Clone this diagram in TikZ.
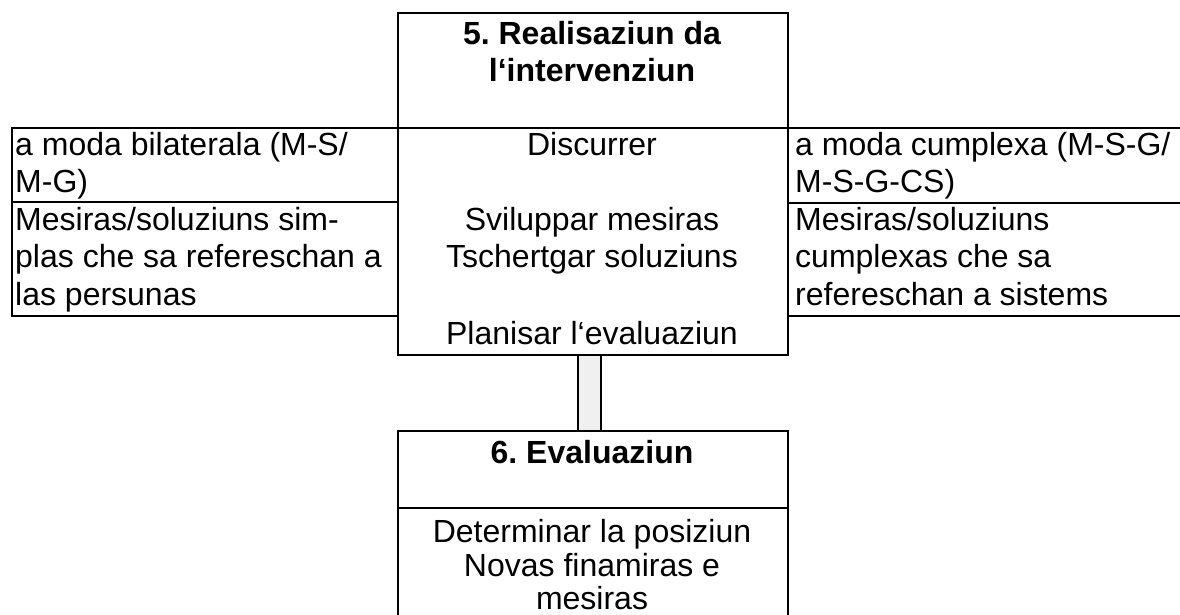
\documentclass[tikz,border=0pt]{standalone}
\usepackage{fontspec}
\setmainfont{Liberation Sans}
\begin{document}
\frenchspacing
\begin{tikzpicture}[x=1pt,y=-1pt,
  box/.style={draw=black,line width=2pt,rectangle,inner sep=0pt,anchor=north west},
  txt/.style={inner sep=0pt,font=\fontsize{32}{37.5}\selectfont},
  ttl/.style={inner sep=0pt,font=\fontsize{32}{37.5}\selectfont\bfseries},
  linkbox/.style={draw=black,line width=2pt,fill=black!6,rectangle,inner sep=0pt}]
\useasboundingbox (0,0) rectangle (1180,615);
\clip (0,0) rectangle (1180,615);
% centre box (step 5)
\node[box,minimum width=390pt,minimum height=115pt] (h5) at (397,12) {};
\node[box,minimum width=390pt,minimum height=227pt] (b5) at (397,127) {};
% left box
\node[box,minimum width=386pt,minimum height=74pt] (lt) at (11,127) {};
\node[box,minimum width=386pt,minimum height=114pt] (lb) at (11,201) {};
% right box
\node[box,minimum width=400pt,minimum height=75pt] (rt) at (787,127) {};
\node[box,minimum width=400pt,minimum height=113pt] (rb) at (787,202) {};
% bottom box (step 6)
\node[box,minimum width=390pt,minimum height=77pt] (h6) at (397,430) {};
\node[box,minimum width=390pt,minimum height=140pt] (b6) at (397,507) {};
% connector
\coordinate (ctop) at (589.5,354);
\node[linkbox,minimum width=23pt,minimum height=76pt,anchor=north] (link) at (ctop) {};
% titles
\node[ttl,anchor=base] (t5a) at (592,45) {5. Realisaziun da};
\node[ttl,anchor=base] (t5b) at (592,82) {l‘intervenziun};
\node[ttl,anchor=base] (t6) at (592,463) {6. Evaluaziun};
% centre body
\node[txt,anchor=base] (c1) at (592,155) {Discurrer};
\node[txt,anchor=base] (c2) at (592,230) {Sviluppar mesiras};
\node[txt,anchor=base] (c3) at (592,267.5) {Tschertgar soluziuns};
\node[txt,anchor=base] (c4) at (592,344) {Planisar l‘evaluaziun};
% left texts
\node[txt,anchor=base west] (l1) at (15,155) {a moda bilaterala (M-S/};
\node[txt,anchor=base west] (l2) at (15,192) {M-G)};
\node[txt,anchor=base west] (l3) at (15,230) {Mesiras/soluziuns sim-};
\node[txt,anchor=base west] (l4) at (15,267.5) {plas che sa refereschan a};
\node[txt,anchor=base west] (l5) at (15,305) {las persunas};
% right texts
\node[txt,anchor=base west] (r1) at (795,155) {a moda cumplexa (M-S-G/};
\node[txt,anchor=base west] (r2) at (795,192) {M-S-G-CS)};
\node[txt,anchor=base west] (r3) at (795,230) {Mesiras/soluziuns};
\node[txt,anchor=base west] (r4) at (795,267.5) {cumplexas che sa};
\node[txt,anchor=base west] (r5) at (795,305) {refereschan a sistems};
% bottom body
\node[txt,anchor=base] (e1) at (592,542) {Determinar la posiziun};
\node[txt,anchor=base] (e2) at (592,576) {Novas finamiras e};
\node[txt,anchor=base] (e3) at (592,609) {mesiras};
\end{tikzpicture}
\end{document}
